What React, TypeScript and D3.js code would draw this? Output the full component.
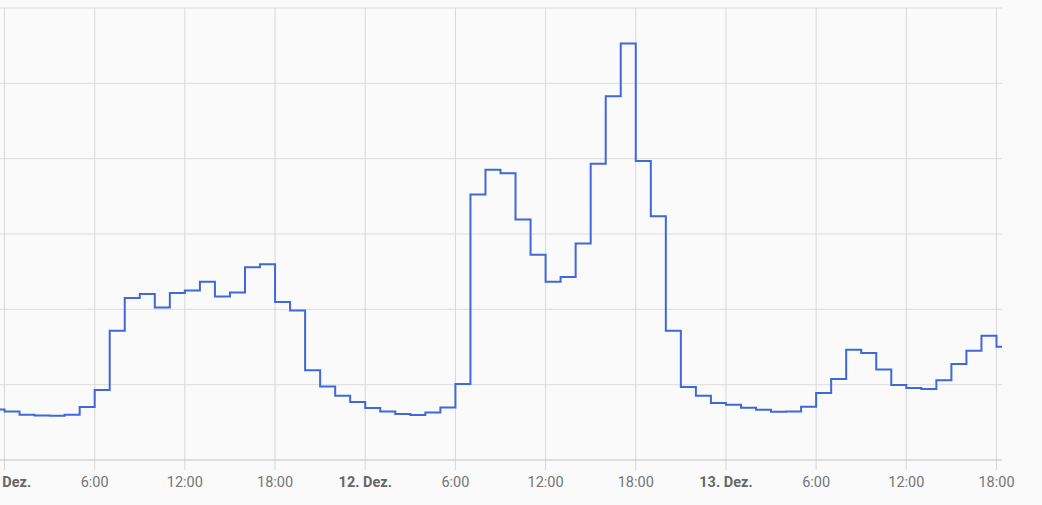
import { curveStepAfter, line, scaleLinear, scaleTime, timeHour } from 'd3'

const W = 1042
const H = 505

// hourly readings, first one is 10. Dez 23:00
const firstHour = new Date(2023, 11, 10, 23, 0)
const viewStart = new Date(2023, 11, 10, 23, 42)
const viewEnd = new Date(2023, 11, 13, 18, 22)

const dec10 = [67]
const dec11 = [64.5, 60, 59, 58.8, 60, 70.4, 93, 171.6, 215, 220.4, 202.6, 221.7,
    225, 236.7, 217.2, 222.5, 256, 260, 209.7, 198.6, 119, 97.7, 85.4, 77]
const dec12 = [69, 64.5, 61, 59.7, 63.2, 69.8, 101, 352.6, 385.4, 380.5, 319.4, 272.5,
    236.7, 243, 287.5, 393.3, 482.7, 553, 397, 323.4, 171.6, 97, 85.4, 75.7]
const dec13 = [73.4, 69.4, 66.8, 64.1, 64.5, 70.8, 89, 107.5, 146.4, 142, 120, 99.6,
    95.6, 94.3, 105.7, 127.4, 145, 165, 150.4]

const yTicks = [0, 100, 200, 300, 400, 500, 600]

const values = [...dec10, ...dec11, ...dec12, ...dec13]
const points = values.map((v, i) => ({ date: timeHour.offset(firstHour, i), value: v }))
points.push({ date: viewEnd, value: values[values.length - 1] })

const margin = { top: 8, bottom: 45, right: 40 }

export default function App() {
    const x = scaleTime()
        .domain([viewStart, viewEnd])
        .range([0, W - margin.right])

    const y = scaleLinear()
        .domain([0, 600])
        .range([H - margin.bottom, margin.top])

    const path = line<any>()
        .curve(curveStepAfter)
        .x(d => x(d.date))
        .y(d => y(d.value))

    const xTicks = x.ticks(timeHour.every(6) as any)
    const base = y(0)

    const fmt = (d: Date) => d.getHours() === 0
        ? `${d.getDate()}. Dez.`
        : `${d.getHours()}:00`

    return (
        <svg width={W} height={H} style={{ position: 'fixed', left: 0, top: 0, display: 'block' }}>
            <rect width={W} height={H} fill="#fafafa" />
            {yTicks.filter(t => t > 0).map(t => (
                <line key={t} x1={0} x2={x.range()[1]} y1={y(t)} y2={y(t)}
                    stroke="#dcdcdc" strokeWidth={1} />
            ))}
            {xTicks.map(t => (
                <line key={+t} x1={x(t)} x2={x(t)} y1={y(600)} y2={base + 10}
                    stroke="#d8d8d8" strokeWidth={1} />
            ))}
            <line x1={0} x2={x.range()[1]} y1={base} y2={base} stroke="#c4c4c4" strokeWidth={1.2} />
            <path d={path(points) || ''} fill="none" stroke="#3f68d8" strokeWidth={2} />
            {xTicks.map(t => (
                <text key={'l' + +t} x={x(t)} y={base + 27} textAnchor="middle"
                    fontFamily="Roboto, sans-serif" fontSize={14.5}
                    fontWeight={t.getHours() === 0 ? 'bold' : 'normal'}
                    fill={t.getHours() === 0 ? '#666' : '#757575'}>
                    {fmt(t)}
                </text>
            ))}
        </svg>
    )
}
